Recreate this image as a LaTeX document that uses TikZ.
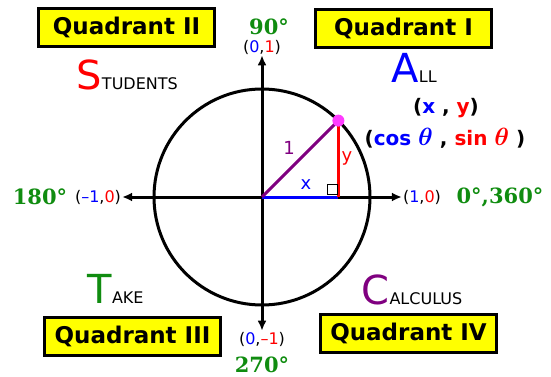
\documentclass[tikz,border=0pt]{standalone}
\usepackage{amsmath}
\usepackage{fontspec}
\setmainfont{DejaVu Sans}
\newfontfamily\degfont{DejaVu Serif}
\usepackage{tikz}
\usetikzlibrary{positioning, calc, arrows.meta}

\definecolor{quadyellow}{RGB}{255,255,0}
\definecolor{anglegreen}{RGB}{16,140,16}
\definecolor{ptblue}{RGB}{0,0,255}
\definecolor{ptred}{RGB}{255,0,0}
\definecolor{hypurple}{RGB}{128,0,128}
\definecolor{dotpink}{RGB}{255,60,255}

\tikzset{
  quadbox/.style={draw, line width=3pt, fill=quadyellow, minimum width=176pt, minimum height=38pt, inner sep=0pt, font=\fontsize{23}{23}\selectfont\bfseries},
  bigletter/.style={anchor=base west, inner sep=0pt, font=\fontsize{40}{40}\selectfont},
  smallcaps/.style={anchor=base west, inner sep=0pt, font=\fontsize{16}{16}\selectfont},
  degree/.style={text=anglegreen, inner sep=0pt, font=\fontsize{21}{21}\selectfont\degfont\bfseries},
  coordlabel/.style={inner sep=1pt, font=\fontsize{16}{16}\selectfont},
  pairlabel/.style={inner sep=1pt, font=\fontsize{20}{20}\selectfont\bfseries},
  sidelabel/.style={inner sep=1pt, font=\fontsize{18}{18}\selectfont},
  axis/.style={line width=3pt, {Latex[length=10pt,width=9pt]}-{Latex[length=10pt,width=9pt]}},
  side/.style={line width=3pt}
}

\begin{document}
\begin{tikzpicture}[x=1pt, y=-1pt]
        % Fix the page size
        \useasboundingbox (0,0) rectangle (551,377);

        % Quadrant boxes
        \node[quadbox] (q2) at (126.5,27.5) {Quadrant II};
        \node[quadbox] (q1) at (403.5,28.5) {Quadrant I};
        \node[quadbox] (q3) at (132.5,336.5) {Quadrant III};
        \node[quadbox] (q4) at (408.5,333.5) {Quadrant IV};

        % All Students Take Calculus
        \node[bigletter, text=ptred] (bigS) at (76,90) {S};
        \node[smallcaps] (tailS) at (bigS.base east) {TUDENTS};
        \node[bigletter, text=ptblue] (bigA) at (391,83) {A};
        \node[smallcaps] (tailA) at (bigA.base east) {LL};
        \node[bigletter, text=anglegreen] (bigT) at (87,303) {T};
        \node[smallcaps] (tailT) at (bigT.base east) {AKE};
        \node[bigletter, text=hypurple] (bigC) at (361,304) {C};
        \node[smallcaps] (tailC) at (bigC.base east) {ALCULUS};

        % Coordinates of the point
        \node[pairlabel] (xy) at (446,108) {(\textcolor{ptblue}{x} , \textcolor{ptred}{y})};
        \node[pairlabel] (cossin) at (445,138) {(\textcolor{ptblue}{cos {\fontsize{24}{24}\selectfont$\boldsymbol{\theta}$}} , \textcolor{ptred}{sin {\fontsize{24}{24}\selectfont$\boldsymbol{\theta}$}} )};

        % Axis end labels
        \node[degree] (d90) at (269,27) {90°};
        \node[coordlabel] (p01) at (262,47) {(\textcolor{ptblue}{0},\textcolor{ptred}{1})};
        \node[degree] (d180) at (40,197) {180°};
        \node[coordlabel] (m10) at (98,197) {(\textcolor{ptblue}{–1},\textcolor{ptred}{0})};
        \node[coordlabel] (p10) at (422,197) {(\textcolor{ptblue}{1},\textcolor{ptred}{0})};
        \node[degree] (d0) at (500,197) {0°,360°};
        \node[coordlabel] (m01) at (262,339) {(\textcolor{ptblue}{0},\textcolor{ptred}{–1})};
        \node[degree] (d270) at (262,365) {270°};

        % Centre, point on the circle and foot
        \coordinate (O) at (262,197);
        \coordinate (P) at ($(O)+(76.4,-76.4)$);
        \coordinate (F) at (O -| P);

        % Draw circle and axes
        \draw[side] (O) circle[radius=108];
        \draw[axis] (m10) -- (p10);
        \draw[axis] (p01) -- (m01);

        % Draw triangle
        \draw[side, ptblue] (O) -- (F);
        \draw[side, ptred] (F) -- (P);
        \draw[side, hypurple] (O) -- (P);
        \draw[thin, fill=white] ($(F)+(-11,-3)$) rectangle ($(F)+(-1,-13)$);
        \fill[dotpink] (P) circle[radius=6];

        % Side labels
        \node[sidelabel, text=hypurple] (one) at (289,148) {1};
        \node[sidelabel, text=ptblue] (xlab) at (306,185) {x};
        \node[sidelabel, text=ptred] (ylab) at (347,158) {y};
    \end{tikzpicture}
\end{document}
